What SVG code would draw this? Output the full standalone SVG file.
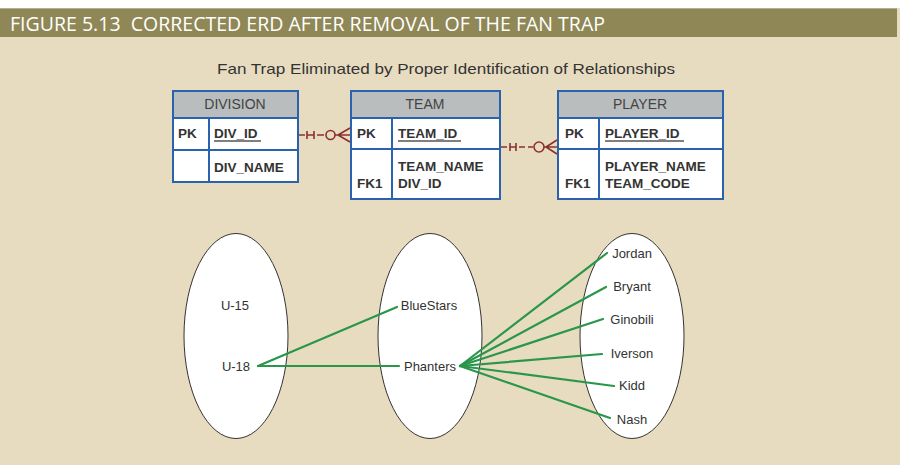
<svg xmlns="http://www.w3.org/2000/svg" width="900" height="465" viewBox="0 0 900 465">
<style>
.bg{fill:#e8dcc0}
.hdr{fill:#b9bdbd;stroke:#2b62ad;stroke-width:2}
.row{fill:#ffffff;stroke:#2b62ad;stroke-width:2}
.ht{font-family:"Liberation Sans",Arial,sans-serif;font-size:14px;fill:#444;text-anchor:middle}
.ft{font-family:"Liberation Sans",Arial,sans-serif;font-size:13.5px;font-weight:bold;fill:#333}
.ul{stroke:#555;stroke-width:1.5}
.rel{stroke:#8b3030;stroke-width:1.6;fill:none}
.ov{fill:#ffffff;stroke:#333;stroke-width:1}
.lb{font-family:"Liberation Sans",Arial,sans-serif;font-size:13px;fill:#333;text-anchor:middle}
.gl{stroke:#2a964a;stroke-width:2.2;stroke-linecap:round;fill:none}
</style>
<rect x="0" y="0" width="900" height="465" class="bg"/>
<rect x="0" y="0" width="900" height="8" fill="#ffffff"/>
<rect x="0" y="8" width="897" height="29" fill="#8f8756"/>
<line x1="0" y1="8.5" x2="897" y2="8.5" stroke="#b2ad8a" stroke-width="1"/>
<text x="10" y="31" xml:space="preserve" font-family="'Open Sans',Lato,sans-serif" font-size="20.5" fill="#ffffff" textLength="595" lengthAdjust="spacingAndGlyphs">FIGURE 5.13  CORRECTED ERD AFTER REMOVAL OF THE FAN TRAP</text>
<text x="446" y="74" font-family="'Liberation Sans',Arial,sans-serif" font-size="15" fill="#333" text-anchor="middle" textLength="458" lengthAdjust="spacingAndGlyphs">Fan Trap Eliminated by Proper Identification of Relationships</text>

<g id="division">
<rect x="173" y="91" width="125" height="27" class="hdr"/>
<rect x="173" y="118" width="125" height="32" class="row"/>
<rect x="173" y="150" width="125" height="32" class="row"/>
<line x1="209" y1="118" x2="209" y2="182" stroke="#2b62ad" stroke-width="2"/>
<text x="235" y="109" class="ht">DIVISION</text>
<text x="178" y="138" class="ft">PK</text>
<text x="214" y="138" class="ft">DIV_ID</text>
<line x1="214" y1="141" x2="261" y2="141" class="ul"/>
<text x="214" y="172" class="ft">DIV_NAME</text>
</g>

<g id="team">
<rect x="351" y="91" width="149" height="27" class="hdr"/>
<rect x="351" y="118" width="149" height="31" class="row"/>
<rect x="351" y="149" width="149" height="50" class="row"/>
<line x1="392" y1="118" x2="392" y2="199" stroke="#2b62ad" stroke-width="2"/>
<text x="425" y="109" class="ht">TEAM</text>
<text x="357" y="138" class="ft">PK</text>
<text x="398" y="138" class="ft">TEAM_ID</text>
<line x1="398" y1="141" x2="461" y2="141" class="ul"/>
<text x="398" y="171" class="ft">TEAM_NAME</text>
<text x="357" y="188" class="ft">FK1</text>
<text x="398" y="188" class="ft">DIV_ID</text>
</g>

<g id="player">
<rect x="558" y="91" width="165" height="27" class="hdr"/>
<rect x="558" y="118" width="165" height="31" class="row"/>
<rect x="558" y="149" width="165" height="50" class="row"/>
<line x1="599" y1="118" x2="599" y2="199" stroke="#2b62ad" stroke-width="2"/>
<text x="640" y="109" class="ht">PLAYER</text>
<text x="565" y="138" class="ft">PK</text>
<text x="605" y="138" class="ft">PLAYER_ID</text>
<line x1="605" y1="141" x2="684" y2="141" class="ul"/>
<text x="605" y="171" class="ft">PLAYER_NAME</text>
<text x="565" y="188" class="ft">FK1</text>
<text x="605" y="188" class="ft">TEAM_CODE</text>
</g>

<g id="relationships">
<path class="rel" d="M299 135H305 M307 131V139 M307 135H314 M314 131V139 M317 135H324"/>
<circle cx="330.5" cy="135" r="4.5" class="rel"/>
<path class="rel" d="M335 135H350 M338 135L350 128 M338 135L350 142"/>
<path class="rel" d="M501 147H507 M510 143V151 M510 147H516 M516 143V151 M519 147H525 M528 147H533"/>
<circle cx="539" cy="147" r="5" class="rel"/>
<path class="rel" d="M544 147H557 M546 147L557 140 M546 147L557 154"/>
</g>

<g id="set-division">
<ellipse cx="236" cy="336" rx="52" ry="102.5" class="ov"/>
<text x="235" y="310" class="lb">U-15</text>
<text x="236" y="371" class="lb">U-18</text>
</g>
<g id="set-team">
<ellipse cx="430" cy="336" rx="52" ry="102.5" class="ov"/>
<text x="429" y="310" class="lb">BlueStars</text>
<text x="430" y="371" class="lb">Phanters</text>
</g>
<g id="set-player">
<ellipse cx="632" cy="336" rx="52" ry="102.5" class="ov"/>
<text x="632" y="258" class="lb">Jordan</text>
<text x="632" y="291" class="lb">Bryant</text>
<text x="632" y="324" class="lb">Ginobili</text>
<text x="632" y="358" class="lb">Iverson</text>
<text x="632" y="390" class="lb">Kidd</text>
<text x="632" y="424" class="lb">Nash</text>
</g>

<g id="connectors">
<line x1="258" y1="366" x2="397" y2="307" class="gl"/>
<line x1="258" y1="366" x2="399" y2="366" class="gl"/>
<line x1="460" y1="366" x2="607" y2="253" class="gl"/>
<line x1="460" y1="366" x2="606" y2="287" class="gl"/>
<line x1="460" y1="366" x2="603" y2="319" class="gl"/>
<line x1="460" y1="366" x2="602" y2="354" class="gl"/>
<line x1="460" y1="366" x2="614" y2="386" class="gl"/>
<line x1="460" y1="366" x2="610" y2="418" class="gl"/>
</g>
</svg>
